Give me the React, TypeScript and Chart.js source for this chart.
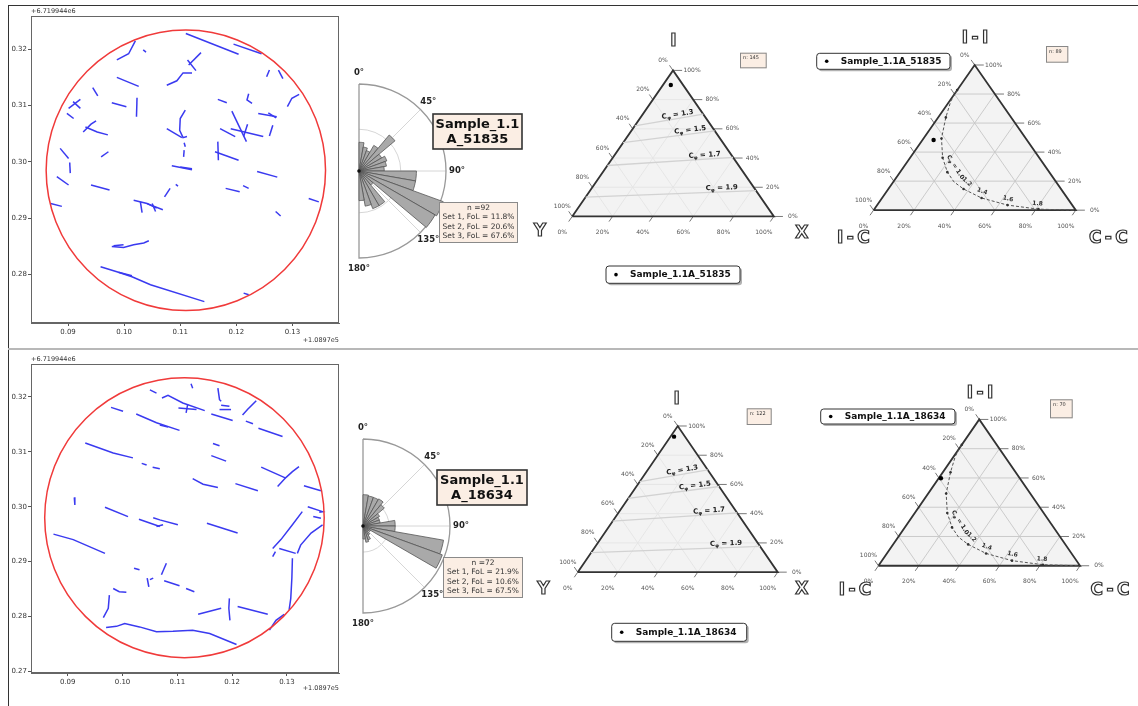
import React, { useEffect, useRef } from 'react';
import { Chart, registerables } from 'chart.js';

Chart.register(...registerables);

const FONT = '"DejaVu Sans", sans-serif';
const BLUE = '#3a3af0';
const RED = '#f03a3a';
const BOXBG = '#fbeee4';

// ---------------- trace maps ----------------
const xTicks = [0.09, 0.1, 0.11, 0.12, 0.13];
const yTicksTop = [0.28, 0.29, 0.3, 0.31, 0.32];
const yTicksBottom = [0.27, 0.28, 0.29, 0.3, 0.31, 0.32];
const xRangeTop = [0.0834, 0.1383];
const yRangeTop = [0.2714, 0.3259];
const xRangeBottom = [0.0833, 0.1395];
const yRangeBottom = [0.2697, 0.326];
const circleTop = [0.111, 0.2985, 0.0249];
const circleBottom = [0.1113, 0.298, 0.0255];

const tracesTop: number[][] = [
  [0.111, 0.3228, 0.1204, 0.3191],
  [0.1195, 0.3209, 0.1245, 0.3192],
  [0.0987, 0.3181, 0.1008, 0.3192, 0.102, 0.3215],
  [0.1034, 0.3199, 0.1039, 0.3195],
  [0.1076, 0.3136, 0.1094, 0.3144, 0.1105, 0.3158, 0.1121, 0.3158],
  [0.1115, 0.3172, 0.1137, 0.3194],
  [0.1113, 0.3181, 0.1128, 0.3162],
  [0.0987, 0.315, 0.1026, 0.3134],
  [0.0944, 0.3132, 0.0953, 0.3117],
  [0.1023, 0.3114, 0.1022, 0.308],
  [0.0978, 0.3105, 0.1004, 0.3098],
  [0.0901, 0.3095, 0.0922, 0.3111],
  [0.0909, 0.3107, 0.0922, 0.3095],
  [0.0898, 0.3086, 0.091, 0.3077],
  [0.0927, 0.3053, 0.0941, 0.3067, 0.095, 0.3073],
  [0.0931, 0.3062, 0.0952, 0.3053, 0.0971, 0.3048],
  [0.0886, 0.3024, 0.0901, 0.3006],
  [0.0903, 0.2999, 0.0904, 0.298],
  [0.0959, 0.3009, 0.0972, 0.3018],
  [0.088, 0.2974, 0.0901, 0.2959],
  [0.0941, 0.2959, 0.0974, 0.295],
  [0.0869, 0.2926, 0.0889, 0.2921],
  [0.1017, 0.2932, 0.1041, 0.2926, 0.1058, 0.2918],
  [0.1029, 0.2929, 0.1032, 0.291],
  [0.1041, 0.2926, 0.1069, 0.2915],
  [0.105, 0.2926, 0.1056, 0.2912],
  [0.1072, 0.2938, 0.1082, 0.2953],
  [0.1092, 0.296, 0.1096, 0.2957],
  [0.1076, 0.3059, 0.1103, 0.3043],
  [0.1109, 0.3092, 0.11, 0.3077, 0.1099, 0.3056, 0.1105, 0.3043, 0.1112, 0.3045],
  [0.1107, 0.3034, 0.1109, 0.3027],
  [0.1107, 0.3021, 0.1106, 0.3009],
  [0.1085, 0.2993, 0.1121, 0.2986],
  [0.11, 0.2991, 0.1121, 0.2988],
  [0.1167, 0.3111, 0.1183, 0.3105],
  [0.1222, 0.3121, 0.1219, 0.311, 0.1228, 0.3104],
  [0.1259, 0.3163, 0.1254, 0.3151],
  [0.1275, 0.3163, 0.1283, 0.3148],
  [0.1291, 0.3098, 0.1299, 0.3113, 0.1312, 0.312],
  [0.1192, 0.309, 0.1218, 0.3036],
  [0.119, 0.3059, 0.1248, 0.3045],
  [0.122, 0.3067, 0.1213, 0.3045],
  [0.1171, 0.3059, 0.1198, 0.3045],
  [0.1239, 0.3086, 0.1272, 0.308],
  [0.1257, 0.3087, 0.1271, 0.3078],
  [0.1265, 0.3065, 0.1259, 0.3046],
  [0.1167, 0.3036, 0.1168, 0.3003],
  [0.1162, 0.3018, 0.1204, 0.3003],
  [0.1237, 0.2983, 0.1273, 0.2973],
  [0.1181, 0.2953, 0.1206, 0.2947],
  [0.1212, 0.2958, 0.1222, 0.2953],
  [0.1329, 0.2935, 0.1347, 0.2929],
  [0.127, 0.2912, 0.1279, 0.2904],
  [0.0978, 0.285, 0.0999, 0.2848, 0.1017, 0.2853, 0.1035, 0.2856, 0.1044, 0.286],
  [0.0981, 0.2851, 0.0999, 0.2853],
  [0.0958, 0.2814, 0.0987, 0.2805, 0.1014, 0.2796, 0.1047, 0.2782, 0.1143, 0.2752],
  [0.099, 0.2804, 0.1014, 0.2798],
  [0.1213, 0.2767, 0.1222, 0.2764],
];

const tracesBottom: number[][] = [
  [0.105, 0.3213, 0.1062, 0.3207],
  [0.1072, 0.3198, 0.1083, 0.3203, 0.111, 0.3189, 0.115, 0.3175],
  [0.1125, 0.3224, 0.1128, 0.3216],
  [0.1174, 0.3216, 0.1177, 0.3195, 0.118, 0.3192],
  [0.118, 0.3185, 0.1195, 0.3183],
  [0.1177, 0.3177, 0.1198, 0.3177],
  [0.1102, 0.318, 0.1135, 0.3177],
  [0.1119, 0.3187, 0.1116, 0.3171],
  [0.1219, 0.3167, 0.1228, 0.3177, 0.1244, 0.3193],
  [0.1162, 0.3169, 0.1201, 0.3157],
  [0.1225, 0.3156, 0.1238, 0.3151],
  [0.1248, 0.3143, 0.1292, 0.3128],
  [0.0979, 0.3181, 0.1001, 0.3174],
  [0.1025, 0.3169, 0.1062, 0.3153, 0.1104, 0.3139],
  [0.1068, 0.3149, 0.1083, 0.3145],
  [0.0932, 0.3116, 0.0983, 0.3098, 0.1019, 0.3089],
  [0.1035, 0.3079, 0.1044, 0.3076],
  [0.1055, 0.3072, 0.1068, 0.3069],
  [0.1165, 0.3115, 0.1177, 0.3111],
  [0.1162, 0.3093, 0.1189, 0.3083],
  [0.1128, 0.3051, 0.1147, 0.3041, 0.1174, 0.3035],
  [0.1206, 0.3042, 0.1247, 0.3029],
  [0.1253, 0.3072, 0.1298, 0.3052],
  [0.1283, 0.3037, 0.1298, 0.3053, 0.131, 0.3064, 0.1322, 0.3073],
  [0.1331, 0.3038, 0.1362, 0.3029],
  [0.0912, 0.3017, 0.0913, 0.3003],
  [0.0968, 0.2999, 0.101, 0.2982],
  [0.103, 0.2977, 0.1068, 0.2964],
  [0.1056, 0.298, 0.1068, 0.2976, 0.1101, 0.2967],
  [0.1062, 0.2964, 0.1074, 0.2967],
  [0.1154, 0.297, 0.121, 0.2952],
  [0.0874, 0.295, 0.091, 0.294, 0.0968, 0.2915],
  [0.1338, 0.3, 0.1365, 0.2991, 0.1359, 0.299],
  [0.1348, 0.2982, 0.1362, 0.2979],
  [0.1274, 0.2924, 0.1289, 0.294, 0.131, 0.2967, 0.1328, 0.2991],
  [0.1319, 0.2915, 0.1325, 0.293, 0.1344, 0.2952, 0.1365, 0.2967],
  [0.1286, 0.2924, 0.1316, 0.2915],
  [0.1274, 0.2909, 0.1279, 0.2918],
  [0.131, 0.2906, 0.1309, 0.287, 0.1307, 0.2833, 0.1304, 0.2812],
  [0.1021, 0.2888, 0.1031, 0.2885],
  [0.1071, 0.2876, 0.108, 0.2897],
  [0.1045, 0.287, 0.1048, 0.2854],
  [0.105, 0.2867, 0.1056, 0.287],
  [0.1076, 0.2865, 0.1104, 0.2856],
  [0.1116, 0.2851, 0.1131, 0.2845],
  [0.0983, 0.2851, 0.0994, 0.2845, 0.1007, 0.2844],
  [0.0976, 0.2839, 0.0974, 0.2815, 0.0965, 0.2798],
  [0.1138, 0.2804, 0.118, 0.2815],
  [0.1195, 0.2833, 0.1194, 0.2815, 0.1196, 0.2793],
  [0.121, 0.2818, 0.1265, 0.2804],
  [0.1268, 0.2775, 0.128, 0.2793, 0.1295, 0.2804],
  [0.097, 0.278, 0.0989, 0.2782, 0.1004, 0.2787, 0.1031, 0.2781, 0.1062, 0.2772, 0.1092, 0.2773, 0.1128, 0.2775, 0.1159, 0.2769, 0.1208, 0.2749],
];

// ---------------- rose diagrams (10° bins, 0–180°) ----------------
const roseBinLabels = ['0', '10', '20', '30', '40', '50', '60', '70', '80', '90', '100', '110', '120', '130', '140', '150', '160', '170'];
const roseTop = [3.3, 2.8, 2.5, 3.4, 5.4, 3.0, 3.4, 3.2, 2.9, 6.6, 6.6, 10.3, 10.1, 2.1, 4.6, 4.6, 4.1, 3.4];
const roseBottom = [3.6, 3.5, 3.5, 3.6, 3.2, 2.2, 2.0, 2.0, 3.7, 3.7, 9.4, 9.7, 1.0, 0.8, 1.2, 1.7, 1.9, 1.5];
const roseDegLabels = [0, 45, 90, 135, 180];
const statsTop = ['n =92', 'Set 1, FoL = 11.8%', 'Set 2, FoL = 20.6%', 'Set 3, FoL = 67.6%'];
const statsBottom = ['n =72', 'Set 1, FoL = 21.9%', 'Set 2, FoL = 10.6%', 'Set 3, FoL = 67.5%'];

// ---------------- ternary plots ----------------
const tickFractions = [0, 0.2, 0.4, 0.6, 0.8, 1];
const gridFractions = [0.2, 0.4, 0.6, 0.8];
const cphiValues = ['1.3', '1.5', '1.7', '1.9'];
const cphiLeftI = [0.62, 0.505, 0.349, 0.133];
const cphiRightI = [0.7, 0.586, 0.405, 0.177];
const cphiLabelT = [0.635, 0.738, 0.776, 0.8];
const curveII = [0.827, 0.749, 0.639, 0.494, 0.361, 0.262, 0.195, 0.146, 0.084, 0.035, 0.007, 0];
const curveCC = [0.0, 0.007, 0.038, 0.089, 0.161, 0.234, 0.3, 0.372, 0.492, 0.645, 0.812, 1.0];
const curveMarker = [1, 0, 1, 1, 1, 1, 0, 1, 1, 1, 1, 0];
const reachLabelText = ['1.0', '1.2', '1.4', '1.6', '1.8'];
const reachLabelX = [0.405, 0.462, 0.537, 0.665, 0.811];
const reachLabelY = [0.295, 0.195, 0.129, 0.078, 0.045];
const reachLabelRot = [58, 45, 20, 13, 6];

// ---------------- helpers ----------------
function pairs(t: number[]) {
  const pts: { x: number; y: number }[] = [];
  for (let i = 0; i < t.length; i += 2) pts.push({ x: t[i], y: t[i + 1] });
  return pts;
}

function roundRect(ctx: any, x: number, y: number, w: number, h: number, r: number) {
  ctx.beginPath();
  ctx.moveTo(x + r, y);
  ctx.lineTo(x + w - r, y);
  ctx.quadraticCurveTo(x + w, y, x + w, y + r);
  ctx.lineTo(x + w, y + h - r);
  ctx.quadraticCurveTo(x + w, y + h, x + w - r, y + h);
  ctx.lineTo(x + r, y + h);
  ctx.quadraticCurveTo(x, y + h, x, y + h - r);
  ctx.lineTo(x, y + r);
  ctx.quadraticCurveTo(x, y, x + r, y);
  ctx.closePath();
}

function hollowText(ctx: any, text: string, x: number, y: number, size: number) {
  ctx.save();
  ctx.font = `bold ${size}px ${FONT}`;
  ctx.textAlign = 'center';
  ctx.textBaseline = 'middle';
  ctx.fillStyle = '#fff';
  ctx.fillText(text, x, y);
  ctx.lineWidth = 1.2;
  ctx.strokeStyle = '#333';
  ctx.strokeText(text, x, y);
  ctx.restore();
}

function cphiText(ctx: any, x: number, y: number, ang: number, value: string, size: number) {
  ctx.save();
  ctx.translate(x, y);
  ctx.rotate(ang);
  const big = `bold ${size}px ${FONT}`;
  const small = `bold ${size * 0.7}px ${FONT}`;
  ctx.font = big;
  const wC = ctx.measureText('C').width;
  const rest = ' = ' + value;
  const wR = ctx.measureText(rest).width;
  ctx.font = small;
  const wS = ctx.measureText('φ').width;
  let sx = -(wC + wS + wR) / 2;
  ctx.textAlign = 'left';
  ctx.textBaseline = 'middle';
  ctx.fillStyle = '#222';
  ctx.font = big;
  ctx.fillText('C', sx, 0);
  sx += wC;
  ctx.font = small;
  ctx.fillText('φ', sx, size * 0.3);
  sx += wS;
  ctx.font = big;
  ctx.fillText(rest, sx, 0);
  ctx.restore();
}

function legendBox(ctx: any, x: number, y: number, w: number, h: number, text: string) {
  ctx.save();
  ctx.fillStyle = 'rgba(0,0,0,0.3)';
  roundRect(ctx, x + 2, y + 2, w, h, 3);
  ctx.fill();
  ctx.fillStyle = '#fff';
  roundRect(ctx, x, y, w, h, 3);
  ctx.fill();
  ctx.strokeStyle = '#333';
  ctx.lineWidth = 1;
  ctx.stroke();
  ctx.fillStyle = '#000';
  ctx.beginPath();
  ctx.arc(x + 10, y + h / 2, 1.8, 0, Math.PI * 2);
  ctx.fill();
  ctx.font = `bold 9px ${FONT}`;
  ctx.textAlign = 'left';
  ctx.textBaseline = 'middle';
  ctx.fillStyle = '#111';
  ctx.fillText(text, x + 24, y + h / 2 + 0.5);
  ctx.restore();
}

function nBox(ctx: any, x: number, y: number, w: number, h: number, text: string) {
  ctx.save();
  ctx.fillStyle = BOXBG;
  ctx.fillRect(x, y, w, h);
  ctx.strokeStyle = '#888';
  ctx.lineWidth = 1;
  ctx.strokeRect(x + 0.5, y + 0.5, w - 1, h - 1);
  ctx.fillStyle = '#333';
  ctx.font = `5px ${FONT}`;
  ctx.textAlign = 'left';
  ctx.textBaseline = 'top';
  ctx.fillText(text, x + 3, y + 3);
  ctx.restore();
}

// ---------------- chart canvas ----------------
function ChartCanvas({ x, y, w, h, make }: { x: number; y: number; w: number; h: number; make: () => any }) {
  const ref = useRef<HTMLCanvasElement>(null);
  useEffect(() => {
    const chart = new Chart(ref.current as HTMLCanvasElement, make());
    return () => chart.destroy();
  }, []);
  return (
    <canvas
      ref={ref}
      width={w}
      height={h}
      style={{ position: 'absolute', left: x, top: y, width: w, height: h }}
    />
  );
}

// ---------------- trace map config ----------------
function traceConfig(traces: number[][], xr: number[], yr: number[], yTicks: number[], circ: number[], padding: any, offBottom: number) {
  const datasets = traces.map((t) => ({
    data: pairs(t),
    showLine: true,
    borderColor: BLUE,
    borderWidth: 1.5,
    pointRadius: 0,
    pointHoverRadius: 0,
    fill: false,
  }));
  const tickFont = { family: FONT, size: 7 };
  return {
    type: 'scatter',
    data: { datasets },
    options: {
      responsive: false,
      animation: false,
      events: [],
      layout: { padding },
      plugins: { legend: { display: false }, tooltip: { enabled: false } },
      scales: {
        x: {
          type: 'linear',
          min: xr[0],
          max: xr[1],
          afterBuildTicks: (s: any) => {
            s.ticks = xTicks.map((v) => ({ value: v }));
          },
          afterFit: (s: any) => {
            s.height = 20;
          },
          ticks: { font: tickFont, color: '#333', padding: 2, maxRotation: 0, autoSkip: false, callback: (v: any) => Number(v).toFixed(2) },
          grid: { display: true, drawOnChartArea: false, drawTicks: true, tickLength: 3, color: '#555' },
          border: { display: true, color: '#666' },
        },
        y: {
          type: 'linear',
          min: yr[0],
          max: yr[1],
          afterBuildTicks: (s: any) => {
            s.ticks = yTicks.map((v) => ({ value: v }));
          },
          afterFit: (s: any) => {
            s.width = 24;
          },
          ticks: { font: tickFont, color: '#333', padding: 1, autoSkip: false, callback: (v: any) => Number(v).toFixed(2) },
          grid: { display: true, drawOnChartArea: false, drawTicks: true, tickLength: 3, color: '#555' },
          border: { display: true, color: '#666' },
        },
      },
    },
    plugins: [
      {
        id: 'traceDecor',
        afterDatasetsDraw(chart: any) {
          const { ctx, chartArea: a, scales } = chart;
          const sx = scales.x;
          const sy = scales.y;
          const cx = sx.getPixelForValue(circ[0]);
          const cy = sy.getPixelForValue(circ[1]);
          const rx = Math.abs(sx.getPixelForValue(circ[0] + circ[2]) - cx);
          const ry = Math.abs(sy.getPixelForValue(circ[1] + circ[2]) - cy);
          ctx.save();
          ctx.strokeStyle = RED;
          ctx.lineWidth = 1.5;
          ctx.beginPath();
          ctx.ellipse(cx, cy, rx, ry, 0, 0, Math.PI * 2);
          ctx.stroke();
          ctx.strokeStyle = '#666';
          ctx.lineWidth = 1;
          ctx.strokeRect(a.left + 0.5, a.top + 0.5, a.right - a.left - 1, a.bottom - a.top - 1);
          ctx.fillStyle = '#333';
          ctx.font = `6.5px ${FONT}`;
          ctx.textAlign = 'left';
          ctx.textBaseline = 'bottom';
          ctx.fillText('+6.719944e6', a.left, a.top - 1);
          ctx.textAlign = 'right';
          ctx.textBaseline = 'middle';
          ctx.fillText('+1.0897e5', a.right, a.bottom + offBottom);
          ctx.restore();
        },
      },
    ],
  };
}

// ---------------- rose config ----------------
interface RoseSpec {
  values: number[];
  padding: any;
  gridVal: number;
  cx: number;
  cy: number;
  sample: string[];
  sampleBox: number[];
  stats: string[];
  statsBox: number[];
}

function roseConfig(s: RoseSpec) {
  return {
    type: 'polarArea',
    data: {
      labels: roseBinLabels,
      datasets: [
        {
          data: s.values,
          angle: 10,
          backgroundColor: '#a9a9a9',
          borderColor: '#555',
          borderWidth: 0.8,
        },
      ],
    },
    options: {
      responsive: false,
      animation: false,
      events: [],
      layout: { padding: s.padding },
      plugins: { legend: { display: false }, tooltip: { enabled: false } },
      scales: {
        r: {
          min: 0,
          max: 10,
          startAngle: 0,
          ticks: { display: false },
          grid: { display: false },
          angleLines: { display: false },
          pointLabels: { display: false },
        },
      },
    },
    plugins: [
      {
        id: 'roseDecor',
        beforeDatasetsDraw(chart: any) {
          const { ctx } = chart;
          const r = chart.scales.r;
          const xc = r.xCenter;
          const yc = r.yCenter;
          const R = r.drawingArea;
          const rin = r.getDistanceFromCenterForValue(s.gridVal);
          ctx.save();
          ctx.strokeStyle = '#d6d6d6';
          ctx.lineWidth = 1;
          for (const deg of [45, 90, 135]) {
            const a = (deg * Math.PI) / 180;
            ctx.beginPath();
            ctx.moveTo(xc, yc);
            ctx.lineTo(xc + R * Math.sin(a), yc - R * Math.cos(a));
            ctx.stroke();
          }
          ctx.beginPath();
          ctx.arc(xc, yc, rin, -Math.PI / 2, Math.PI / 2);
          ctx.stroke();
          ctx.strokeStyle = '#999';
          ctx.lineWidth = 1.3;
          ctx.beginPath();
          ctx.moveTo(xc, yc - R);
          ctx.lineTo(xc, yc + R);
          ctx.arc(xc, yc, R, Math.PI / 2, -Math.PI / 2, true);
          ctx.stroke();
          ctx.restore();
        },
        afterDraw(chart: any) {
          const { ctx } = chart;
          const r = chart.scales.r;
          const xc = r.xCenter;
          const yc = r.yCenter;
          const R = r.drawingArea;
          ctx.save();
          ctx.fillStyle = '#111';
          ctx.beginPath();
          ctx.arc(xc, yc, 1.8, 0, Math.PI * 2);
          ctx.fill();
          ctx.font = `bold 8.5px ${FONT}`;
          ctx.textAlign = 'center';
          ctx.textBaseline = 'middle';
          ctx.fillStyle = '#222';
          for (const deg of roseDegLabels) {
            const a = (deg * Math.PI) / 180;
            ctx.fillText(`${deg}°`, xc + (R + 11) * Math.sin(a), yc - (R + 11) * Math.cos(a));
          }
          const [bx, by, bw, bh] = s.sampleBox;
          const X = bx - s.cx;
          const Y = by - s.cy;
          ctx.fillStyle = BOXBG;
          ctx.fillRect(X, Y, bw, bh);
          ctx.strokeStyle = '#333';
          ctx.lineWidth = 1.6;
          ctx.strokeRect(X, Y, bw, bh);
          ctx.fillStyle = '#111';
          ctx.font = `bold 13px ${FONT}`;
          ctx.fillText(s.sample[0], X + bw / 2, Y + 10.5);
          ctx.fillText(s.sample[1], X + bw / 2, Y + 25.5);
          const [tx, ty, tw, th] = s.statsBox;
          const TX = tx - s.cx;
          const TY = ty - s.cy;
          ctx.fillStyle = BOXBG;
          ctx.fillRect(TX, TY, tw, th);
          ctx.strokeStyle = '#8a8a8a';
          ctx.lineWidth = 1;
          ctx.strokeRect(TX + 0.5, TY + 0.5, tw - 1, th - 1);
          ctx.fillStyle = '#333';
          ctx.font = `7.5px ${FONT}`;
          s.stats.forEach((t, i) => ctx.fillText(t, TX + tw / 2, TY + 6 + i * 9.5));
          ctx.restore();
        },
      },
    ],
  };
}

// ---------------- ternary config ----------------
interface TernSpec {
  cx: number;
  cy: number;
  cw: number;
  ch: number;
  x0: number;
  x1: number;
  yBase: number;
  yTop: number;
  kind: 'cphi' | 'reach';
  pointI: number;
  pointC: number;
  titles: [string, number, number][];
  nText: string;
  nRect: number[];
  legend: string;
  legendRect: number[];
}

function ternConfig(s: TernSpec) {
  const xu = s.x1 - s.x0;
  const yu = s.yBase - s.yTop;
  const xmin = -(s.x0 - s.cx) / xu;
  const xmax = xmin + s.cw / xu;
  const ymax = 1 + (s.yTop - s.cy) / yu;
  const ymin = ymax - s.ch / yu;
  const cart = (a: number, c: number) => ({ x: c + a / 2, y: a });
  const line = (pts: any[], color: string, width: number) => ({
    data: pts,
    showLine: true,
    borderColor: color,
    borderWidth: width,
    pointRadius: 0,
    pointHoverRadius: 0,
    fill: false,
  });
  const ds: any[] = [];
  ds.push({
    data: [cart(s.pointI, s.pointC)],
    showLine: false,
    pointRadius: 2.2,
    pointBackgroundColor: '#000',
    pointBorderWidth: 0,
  });
  if (s.kind === 'reach') {
    ds.push({
      data: curveII.map((a, i) => cart(a, curveCC[i])),
      showLine: true,
      borderColor: '#555',
      borderWidth: 1,
      borderDash: [3, 2],
      pointRadius: curveMarker.map((m) => (m ? 1.3 : 0)),
      pointBackgroundColor: '#333',
      pointBorderWidth: 0,
      fill: false,
    });
  } else {
    cphiLeftI.forEach((aL, i) => ds.push(line([cart(aL, 0), cart(cphiRightI[i], 1 - cphiRightI[i])], '#d2d2d2', 1.3)));
  }
  ds.push(line([cart(0, 0), cart(1, 0), cart(0, 1), cart(0, 0)], '#333', 1.8));
  const tl = 0.035;
  for (const f of tickFractions) {
    const L = cart(1 - f, 0);
    ds.push(line([L, { x: L.x - 0.5 * tl, y: L.y + tl }], '#555', 0.8));
    const Rr = cart(f, 1 - f);
    ds.push(line([Rr, { x: Rr.x + 0.045, y: Rr.y }], '#555', 0.8));
    const B = cart(0, f);
    ds.push(line([B, { x: B.x - 0.5 * tl, y: B.y - tl }], '#555', 0.8));
  }
  const gc = s.kind === 'reach' ? '#c6c6c6' : '#e4e4e4';
  for (const f of gridFractions) {
    ds.push(line([cart(f, 0), cart(f, 1 - f)], gc, 0.9));
    ds.push(line([cart(1 - f, 0), cart(0, 1 - f)], gc, 0.9));
    ds.push(line([cart(0, f), cart(1 - f, f)], gc, 0.9));
  }
  ds.push({
    data: [cart(0, 0), cart(1, 0), cart(0, 1)],
    showLine: true,
    borderWidth: 0,
    borderColor: 'rgba(0,0,0,0)',
    backgroundColor: '#f3f3f3',
    pointRadius: 0,
    fill: 'origin',
  });

  return {
    type: 'scatter',
    data: { datasets: ds },
    options: {
      responsive: false,
      animation: false,
      events: [],
      layout: { padding: 0 },
      plugins: { legend: { display: false }, tooltip: { enabled: false } },
      scales: {
        x: { type: 'linear', display: false, min: xmin, max: xmax },
        y: { type: 'linear', display: false, min: ymin, max: ymax },
      },
    },
    plugins: [
      {
        id: 'ternDecor',
        afterDraw(chart: any) {
          const { ctx, scales } = chart;
          const P = (x: number, y: number) => [scales.x.getPixelForValue(x), scales.y.getPixelForValue(y)];
          ctx.save();
          ctx.font = `6px ${FONT}`;
          ctx.fillStyle = '#555';
          ctx.textAlign = 'center';
          ctx.textBaseline = 'middle';
          for (const f of tickFractions) {
            const lab = `${Math.round(f * 100)}%`;
            const L = cart(1 - f, 0);
            let [px, py] = P(L.x, L.y);
            ctx.fillText(lab, px - 10, py - 10);
            const Rr = cart(f, 1 - f);
            [px, py] = P(Rr.x, Rr.y);
            ctx.fillText(lab, px + 19, py);
            const B = cart(0, f);
            [px, py] = P(B.x, B.y);
            ctx.fillText(lab, px - 10, py + 16);
          }
          if (s.kind === 'cphi') {
            cphiValues.forEach((v, i) => {
              const a = cart(cphiLeftI[i], 0);
              const b = cart(cphiRightI[i], 1 - cphiRightI[i]);
              const [x1, y1] = P(a.x, a.y);
              const [x2, y2] = P(b.x, b.y);
              const ang = Math.atan2(y2 - y1, x2 - x1);
              const t = cphiLabelT[i];
              const lx = x1 + (x2 - x1) * t + Math.sin(ang) * 4;
              const ly = y1 + (y2 - y1) * t - Math.cos(ang) * 4;
              cphiText(ctx, lx, ly, ang, v, 7);
            });
          } else {
            reachLabelText.forEach((v, i) => {
              const [lx, ly] = P(reachLabelX[i], reachLabelY[i]);
              const ang = (reachLabelRot[i] * Math.PI) / 180;
              if (i === 0) {
                cphiText(ctx, lx, ly, ang, v, 6);
              } else {
                ctx.save();
                ctx.translate(lx, ly);
                ctx.rotate(ang);
                ctx.font = `bold 6px ${FONT}`;
                ctx.fillStyle = '#333';
                ctx.textAlign = 'center';
                ctx.textBaseline = 'middle';
                ctx.fillText(v, 0, 0);
                ctx.restore();
              }
            });
          }
          for (const [t, tx, ty] of s.titles) hollowText(ctx, t, tx - s.cx, ty - s.cy, 17);
          nBox(ctx, s.nRect[0] - s.cx, s.nRect[1] - s.cy, s.nRect[2], s.nRect[3], s.nText);
          legendBox(ctx, s.legendRect[0] - s.cx, s.legendRect[1] - s.cy, s.legendRect[2], s.legendRect[3], s.legend);
          ctx.restore();
        },
      },
    ],
  };
}

// ---------------- specs ----------------
const roseTopSpec: RoseSpec = {
  values: roseTop,
  padding: { left: 2, top: 24, right: 86, bottom: 22 },
  gridVal: 4.8,
  cx: 270,
  cy: 60,
  sample: ['Sample_1.1', 'A_51835'],
  sampleBox: [433, 114, 89, 35],
  stats: statsTop,
  statsBox: [439, 202, 79, 41],
};
const roseBottomSpec: RoseSpec = {
  values: roseBottom,
  padding: { left: 4, top: 29, right: 84, bottom: 27 },
  gridVal: 3.0,
  cx: 272,
  cy: 410,
  sample: ['Sample_1.1', 'A_18634'],
  sampleBox: [437, 470, 90, 35],
  stats: statsBottom,
  statsBox: [443, 557, 80, 41],
};

const ternSpecs: TernSpec[] = [
  {
    cx: 530, cy: 25, cw: 288, ch: 265,
    x0: 569.3, x1: 776.7, yBase: 218.3, yTop: 67.7,
    kind: 'cphi', pointI: 0.9, pointC: 0.039,
    titles: [['I', 673.3, 42], ['Y', 540, 231.7], ['X', 801.7, 233.3]],
    nText: 'n: 145', nRect: [740, 52.7, 26.7, 15.6],
    legend: 'Sample_1.1A_51835', legendRect: [606, 266, 134, 17.3],
  },
  {
    cx: 530, cy: 380, cw: 288, ch: 265,
    x0: 575, x1: 780.7, yBase: 574, yTop: 423.3,
    kind: 'cphi', pointI: 0.927, pointC: 0.018,
    titles: [['I', 676.7, 400], ['Y', 543.3, 590], ['X', 801.7, 590]],
    nText: 'n: 122', nRect: [746.7, 408.3, 25, 16.7],
    legend: 'Sample_1.1A_18634', legendRect: [611.7, 623.3, 135, 18],
  },
  {
    cx: 812, cy: 25, cw: 326, ch: 230,
    x0: 871, x1: 1078.3, yBase: 212.7, yTop: 62.3,
    kind: 'reach', pointI: 0.483, pointC: 0.0555,
    titles: [['I\u2009-\u2009I', 975, 38.3], ['I\u2009-\u2009C', 853.3, 238.3], ['C\u2009-\u2009C', 1108.3, 238.3]],
    nText: 'n: 89', nRect: [1046, 46, 22.3, 16.7],
    legend: 'Sample_1.1A_51835', legendRect: [816.7, 53.3, 133.3, 16],
  },
  {
    cx: 812, cy: 380, cw: 326, ch: 230,
    x0: 876, x1: 1082.7, yBase: 568.3, yTop: 416.7,
    kind: 'reach', pointI: 0.598, pointC: 0.011,
    titles: [['I\u2009-\u2009I', 980, 394], ['I\u2009-\u2009C', 855, 590.7], ['C\u2009-\u2009C', 1110, 590.7]],
    nText: 'n: 70', nRect: [1050, 399.3, 22.7, 19],
    legend: 'Sample_1.1A_18634', legendRect: [820.7, 409, 134.3, 15],
  },
];

export default function App() {
  return (
    <div style={{ position: 'absolute', left: 0, top: 0, width: 1138, height: 706, background: '#fff', overflow: 'hidden', fontFamily: FONT }}>
      <div style={{ position: 'absolute', left: 8, top: 5, width: 1130, height: 1, background: '#333' }} />
      <div style={{ position: 'absolute', left: 8, top: 5, width: 1, height: 701, background: '#333' }} />
      <div style={{ position: 'absolute', left: 8, top: 348, width: 1130, height: 2, background: '#b8b8b8' }} />
      <ChartCanvas
        x={0}
        y={0}
        w={345}
        h={346}
        make={() => traceConfig(tracesTop, xRangeTop, yRangeTop, yTicksTop, circleTop, { left: 7, top: 16, right: 6, bottom: 3 }, 17)}
      />
      <ChartCanvas
        x={0}
        y={350}
        w={345}
        h={350}
        make={() => traceConfig(tracesBottom, xRangeBottom, yRangeBottom, yTicksBottom, circleBottom, { left: 7, top: 14, right: 6, bottom: 7 }, 15)}
      />
      <ChartCanvas x={270} y={60} w={262} h={220} make={() => roseConfig(roseTopSpec)} />
      <ChartCanvas x={272} y={410} w={262} h={230} make={() => roseConfig(roseBottomSpec)} />
      {ternSpecs.map((s, i) => (
        <ChartCanvas key={i} x={s.cx} y={s.cy} w={s.cw} h={s.ch} make={() => ternConfig(s)} />
      ))}
    </div>
  );
}
